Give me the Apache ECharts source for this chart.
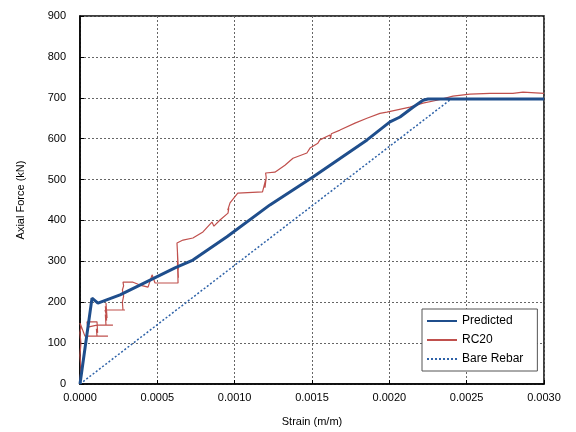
<!DOCTYPE html>
<html>
<head>
<meta charset="utf-8">
<script src="https://cdn.jsdelivr.net/npm/echarts@6/dist/echarts.min.js"></script>
<style>html,body{margin:0;padding:0;background:#fff}#c{width:576px;height:432px}</style>
</head>
<body>
<div id="c"></div>
<script>
// Axis ticks
var xTicks = [0, 0.0005, 0.001, 0.0015, 0.002, 0.0025, 0.003];
var yTicks = [0, 100, 200, 300, 400, 500, 600, 700, 800, 900];

// Predicted (strain, kN)
var predictedStrain = [0, 0.0000776, 0.000116, 0.000259, 0.000614, 0.00073, 0.00095, 0.001228, 0.001506, 0.001856, 0.002004, 0.002069, 0.002153, 0.002218, 0.00225, 0.003];
var predictedForce  = [0, 210, 198, 218, 284, 303, 360, 438, 506, 597, 641, 653, 677, 694, 697, 697];

// RC20 test (strain, kN)
var rc20Strain = [0, 0.000006, 0, 0.000006, 0, 0.000006, 0, 0.000032, 0.000181, 0.00011, 0.000106, 0.000114, 0.00011, 0.000045, 0.00005, 0.00011, 0.000213, 0.000168, 0.000164, 0.000172, 0.000164, 0.000172, 0.000168, 0.000175, 0.000162, 0.000291, 0.000278, 0.000274, 0.000282, 0.000274, 0.000282, 0.000278, 0.000343, 0.000388, 0.00044, 0.000466, 0.000485, 0.000634, 0.00063, 0.000636, 0.00063, 0.000636, 0.000627, 0.000666, 0.00073, 0.000795, 0.000853, 0.000866, 0.000905, 0.000957, 0.000962, 0.000955, 0.00097, 0.00102, 0.00118, 0.0012, 0.001196, 0.001204, 0.0012, 0.00126, 0.001325, 0.001377, 0.001467, 0.001487, 0.001538, 0.001551, 0.001616, 0.00162, 0.001625, 0.001681, 0.001778, 0.001855, 0.001939, 0.001984, 0.002133, 0.002217, 0.002308, 0.002411, 0.002521, 0.00265, 0.002799, 0.002864, 0.003];
var rc20Force  = [0, 40, 70, 100, 125, 140, 149, 117, 117, 117, 135, 125, 152, 152, 139, 144, 144, 144, 170, 155, 190, 175, 198, 161, 181, 181, 181, 200, 215, 230, 240, 249, 249, 242, 237, 267, 247, 247, 300, 260, 320, 280, 345, 352, 357, 372, 396, 386, 401, 418, 430, 425, 443, 467, 470, 499, 480, 505, 516, 518, 535, 552, 565, 577, 589, 597, 609, 600, 612, 621, 638, 650, 662, 665, 677, 687, 694, 704, 709, 711, 711, 714, 711];

// Bare rebar (strain, kN)
var bareStrain = [0, 0.0024, 0.003];
var bareForce  = [0, 697, 697];

function zip(a, b) { return a.map(function (v, i) { return [v, b[i]]; }); }

var font = 'Liberation Sans, Arial, sans-serif';
var chart = echarts.init(document.getElementById('c'), null, {renderer: 'canvas'});
chart.setOption({
  animation: false,
  backgroundColor: '#fff',
  grid: {left: 80, right: 32, top: 16, bottom: 48, show: true, borderColor: '#000', borderWidth: 1.5, backgroundColor: 'transparent'},
  xAxis: {
    type: 'value', min: xTicks[0], max: xTicks[xTicks.length - 1], interval: 0.0005,
    name: 'Strain (m/m)', nameLocation: 'middle', nameGap: 32,
    nameTextStyle: {fontFamily: font, fontSize: 11, color: '#000'},
    axisLine: {show: true, lineStyle: {color: '#000', width: 1.5}},
    axisTick: {show: true, inside: true, length: 4, lineStyle: {color: '#000'}},
    axisLabel: {fontFamily: font, fontSize: 11, color: '#000', margin: 8, formatter: function (v) { return v.toFixed(4); }},
    splitLine: {show: true, lineStyle: {color: '#666', type: [2, 2], width: 1}}
  },
  yAxis: {
    type: 'value', min: yTicks[0], max: yTicks[yTicks.length - 1], interval: 100,
    name: 'Axial Force (kN)', nameLocation: 'middle', nameGap: 54, nameRotate: 90,
    nameTextStyle: {fontFamily: font, fontSize: 11, color: '#000'},
    axisLine: {show: true, lineStyle: {color: '#000', width: 1.5}},
    axisTick: {show: true, inside: true, length: 4, lineStyle: {color: '#000'}},
    axisLabel: {fontFamily: font, fontSize: 11, color: '#000', margin: 14},
    splitLine: {show: true, lineStyle: {color: '#666', type: [2, 2], width: 1}}
  },
  legend: {
    orient: 'vertical', left: 422, top: 309,
    padding: [6, 14, 6, 4], itemGap: 7, itemWidth: 30, itemHeight: 12,
    borderColor: '#555', borderWidth: 1, backgroundColor: '#fff',
    itemStyle: {opacity: 0},
    textStyle: {fontFamily: font, fontSize: 12, color: '#000'},
    data: ['Predicted', 'RC20', 'Bare Rebar']
  },
  series: [
    {name: 'Predicted', type: 'line', data: zip(predictedStrain, predictedForce), symbol: 'none', z: 5,
     lineStyle: {color: '#1F4E8C', width: 3}, itemStyle: {color: '#1F4E8C'}},
    {name: 'RC20', type: 'line', data: zip(rc20Strain, rc20Force), symbol: 'none', z: 4,
     lineStyle: {color: '#C0504D', width: 1.2}, itemStyle: {color: '#C0504D'}},
    {name: 'Bare Rebar', type: 'line', data: zip(bareStrain, bareForce), symbol: 'none', z: 3,
     lineStyle: {color: '#2E62A8', width: 1.5, type: [2, 2]}, itemStyle: {color: '#2E62A8'}}
  ]
});
</script>
</body>
</html>
